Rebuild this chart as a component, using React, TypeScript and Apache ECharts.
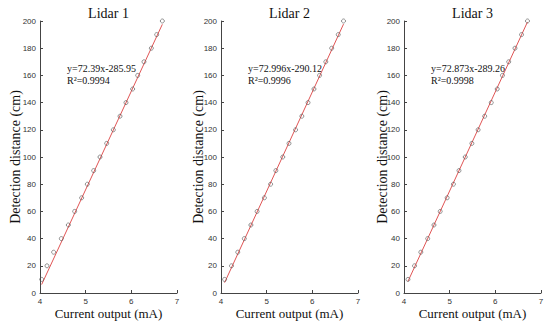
import React, { useEffect, useRef } from "react";
import * as echarts from "echarts";

const titles = ["Lidar 1", "Lidar 2", "Lidar 3"];
const distances = [10, 20, 30, 40, 50, 60, 70, 80, 90, 100, 110, 120, 130, 140, 150, 160, 170, 180, 190, 200];
const current1 = [4.036, 4.153, 4.299, 4.467, 4.62, 4.759, 4.912, 5.036, 5.175, 5.314, 5.46, 5.606, 5.752, 5.883, 6.029, 6.139, 6.277, 6.438, 6.555, 6.679];
const current2 = [4.079, 4.23, 4.367, 4.511, 4.655, 4.791, 4.95, 5.086, 5.201, 5.353, 5.489, 5.633, 5.77, 5.906, 6.036, 6.158, 6.295, 6.424, 6.568, 6.683];
const current3 = [4.087, 4.231, 4.368, 4.519, 4.656, 4.793, 4.945, 5.082, 5.204, 5.341, 5.486, 5.623, 5.767, 5.911, 6.041, 6.156, 6.293, 6.43, 6.574, 6.704];
const slopes = [72.39, 72.996, 72.873];
const intercepts = [-285.95, -290.12, -289.26];
const slopeLabels = ["72.39", "72.996", "72.873"];
const interceptLabels = ["285.95", "290.12", "289.26"];
const r2Labels = ["0.9994", "0.9996", "0.9998"];

const currents = [current1, current2, current3];
const gridLefts = [40, 221, 404];
const gridWidth = 137;
const nameLefts = [15, 198, 382];
const annLefts = [67, 248, 431];
const SERIF = "'Liberation Serif', 'Times New Roman', serif";

export default function App() {
  const ref = useRef<HTMLDivElement>(null);
  useEffect(() => {
    if (!ref.current) return;
    const chart = echarts.init(ref.current, undefined, { renderer: "svg" });
    const grids = gridLefts.map((l) => ({ left: l, width: gridWidth, top: 21, bottom: 30 }));
    const axisCommon = {
      axisLine: { show: true, lineStyle: { color: "#444", width: 1 } },
      axisTick: { show: true, inside: true, length: 3, lineStyle: { color: "#444" } },
      axisLabel: { color: "#333", fontSize: 8, fontFamily: "Liberation Sans", margin: 4 },
      splitLine: { show: false },
    };
    const xAxis = gridLefts.map((_, i) => ({
      type: "value",
      gridIndex: i,
      min: 4,
      max: 7,
      interval: 1,
      ...axisCommon,
    }));
    const yAxis = gridLefts.map((_, i) => ({
      type: "value",
      gridIndex: i,
      min: 0,
      max: 200,
      interval: 20,
      ...axisCommon,
    }));
    const series: any[] = [];
    currents.forEach((cur, i) => {
      series.push({
        type: "scatter",
        xAxisIndex: i,
        yAxisIndex: i,
        data: cur.map((x, j) => [x, distances[j]]),
        symbol: "circle",
        symbolSize: 4,
        itemStyle: { color: "rgba(0,0,0,0)", borderColor: "#555", borderWidth: 0.8 },
        z: 3,
      });
      const xmin = Math.min(...cur);
      const xmax = Math.max(...cur);
      series.push({
        type: "line",
        xAxisIndex: i,
        yAxisIndex: i,
        data: [
          [xmin, slopes[i] * xmin + intercepts[i]],
          [xmax, slopes[i] * xmax + intercepts[i]],
        ],
        symbol: "none",
        lineStyle: { color: "#e05555", width: 1 },
        z: 2,
      });
    });
    const txt = (size: number) => ({ fontFamily: SERIF, fontSize: size, fill: "#111" });
    const graphic: any[] = [];
    titles.forEach((t, i) => {
      graphic.push({
        type: "text",
        x: gridLefts[i] + gridWidth / 2,
        y: 13,
        style: { text: t, ...txt(14), align: "center", verticalAlign: "middle" },
      });
      graphic.push({
        type: "text",
        x: nameLefts[i],
        y: 157,
        rotation: Math.PI / 2,
        style: { text: "Detection distance (cm)", ...txt(14), align: "center", verticalAlign: "middle" },
      });
      graphic.push({
        type: "text",
        x: gridLefts[i] + gridWidth / 2,
        y: 313,
        style: { text: "Current output (mA)", ...txt(13), align: "center", verticalAlign: "middle" },
      });
      graphic.push({
        type: "text",
        x: annLefts[i],
        y: 68,
        style: { text: `y=${slopeLabels[i]}x-${interceptLabels[i]}`, ...txt(10), align: "left", verticalAlign: "middle" },
      });
      graphic.push({
        type: "text",
        x: annLefts[i],
        y: 80,
        style: { text: `R²=${r2Labels[i]}`, ...txt(10), align: "left", verticalAlign: "middle" },
      });
    });
    chart.setOption({
      animation: false,
      backgroundColor: "#fff",
      grid: grids,
      xAxis,
      yAxis,
      series,
      graphic,
    });
    return () => chart.dispose();
  }, []);
  return <div ref={ref} style={{ width: 550, height: 323, position: "absolute", left: 0, top: 0 }} />;
}
